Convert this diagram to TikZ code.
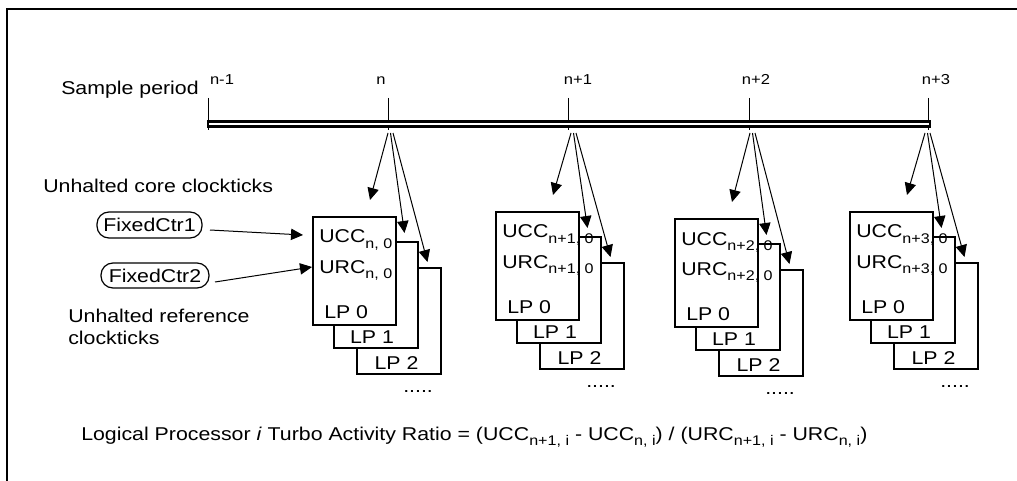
\documentclass[tikz,border=0pt]{standalone}
\usepackage{fontspec}
\setmainfont{Liberation Sans}[FakeStretch=1.15]
\usetikzlibrary{arrows.meta}
\newcommand\sbs[1]{\raisebox{-3.8pt}{\fontsize{10.5}{12}\selectfont #1}}
\begin{document}
\begin{tikzpicture}[x=0.75pt,y=-0.75pt,
  font=\fontsize{13.9}{16}\selectfont,
  lpbox/.style={draw, line width=1.5pt, fill=white, anchor=north west, inner sep=0, outer sep=0},
  txt/.style={inner sep=0, anchor=base west},
  ctxt/.style={inner sep=0, anchor=base},
  ticklab/.style={inner sep=0, anchor=base, font=\fontsize{10.8}{12}\selectfont},
  arr/.style={-{Triangle[length=9pt,width=8.5pt]}, line width=0.75pt},
  ctr/.style={draw, rounded corners=9pt, line width=0.9pt, inner sep=0, outer sep=0},
  tickline/.style={line width=0.75pt}]
\useasboundingbox (0,0) rectangle (1017,481);
% frame
\draw[line width=1.5pt] (7,481) -- (7,9) -- (1017,9);
% sample period
\node[txt] (sp) at (61,95) {Sample period};
% ticks
\foreach \t/\lab/\lx/\k in {208/n-1/222/z, 388/n/381/a, 568/n+1/578/b, 749/n+2/756/c, 928/n+3/936/d}{
  \coordinate (ttop\k) at (\t,98);
  \coordinate (tbot\k) at (\t,130);
  \draw[tickline] (ttop\k) -- (tbot\k);
  \node[ticklab] (tl\k) at (\lx,85) {\lab};
}
% bar
\draw[line width=1.95pt, fill=white] (208,121.3) rectangle (930,126.3);
% groups
\foreach \xo/\yo/\lab/\k in {313/217/n/a, 496/212/n+1/b, 675/219/n+2/c, 850/212/n+3/d}{
  \node[lpbox, minimum width=63pt, minimum height=79.5pt] (lpc\k) at ({\xo+44},{\yo+51}) {};
  \node[lpbox, minimum width=63pt, minimum height=79.5pt] (lpb\k) at ({\xo+21},{\yo+25}) {};
  \node[lpbox, minimum width=62.25pt, minimum height=81pt] (lpa\k) at (\xo,\yo) {};
  \node[txt] (ucc\k) at ({\xo+6},{\yo+26}) {UCC\sbs{\lab, 0}};
  \node[txt] (urc\k) at ({\xo+6},{\yo+56}) {URC\sbs{\lab, 0}};
  \node[txt] (lz\k) at ({\xo+11},{\yo+101}) {LP 0};
  \node[ctxt] (lo\k) at ({\xo+59},{\yo+126}) {LP 1};
  \node[ctxt] (lt\k) at ({\xo+83.5},{\yo+152}) {LP 2};
  \node[txt] (dots\k) at ({\xo+90},{\yo+175}) {.....};
  \coordinate (sa\k) at ({\xo+75},133);
  \coordinate (sb\k) at ({\xo+77.5},133);
  \coordinate (sc\k) at ({\xo+80},133);
  \coordinate (ea\k) at ({\xo+57},{\yo-17});
  \coordinate (eb\k) at ({\xo+91.5},{\yo+16});
  \coordinate (ec\k) at ({\xo+114.5},{\yo+45});
  \draw[arr] (sa\k) -- (ea\k);
  \draw[arr] (sb\k) -- (eb\k);
  \draw[arr] (sc\k) -- (ec\k);
}
% left labels
\node[txt] (uhc) at (43,193) {Unhalted core clockticks};
\node[ctr, minimum width=78.75pt, minimum height=19.5pt] (fc1) at (149.5,225) {FixedCtr1};
\node[ctr, minimum width=81pt, minimum height=18.75pt] (fc2) at (155,275.5) {FixedCtr2};
\node[txt] (uhr1) at (68,322) {Unhalted reference};
\node[txt] (uhr2) at (68,344) {clockticks};
\coordinate (f1s) at (210,230);
\coordinate (f1e) at (303,235);
\coordinate (f2s) at (215,282);
\coordinate (f2e) at (312,267);
\draw[arr] (f1s) -- (f1e);
\draw[arr] (f2s) -- (f2e);
% formula
\node[txt] (formula) at (81,440) {Logical Processor \textit{i} Turbo Activity Ratio = (UCC\sbs{n+1, i} - UCC\sbs{n, i}) / (URC\sbs{n+1, i} - URC\sbs{n, i})};
\end{tikzpicture}
\end{document}
